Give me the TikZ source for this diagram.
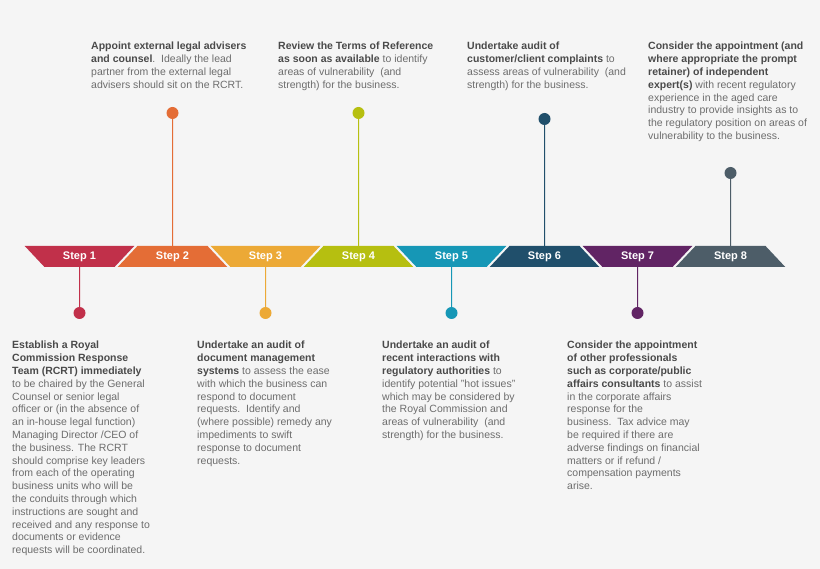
\documentclass[tikz,border=0pt]{standalone}
\usepackage{fontspec}
\setmainfont{Liberation Sans}
\usepackage{xcolor}
\usetikzlibrary{shapes.geometric}

\definecolor{bggray}{HTML}{F5F5F5}
\definecolor{boldgray}{HTML}{4A4A4A}
\definecolor{textgray}{HTML}{6D6D6D}
\definecolor{stepone}{HTML}{C1304A}
\definecolor{steptwo}{HTML}{E46D36}
\definecolor{stepthree}{HTML}{ECA936}
\definecolor{stepfour}{HTML}{B6BF10}
\definecolor{stepfive}{HTML}{1697B6}
\definecolor{stepsix}{HTML}{204F6B}
\definecolor{stepseven}{HTML}{612464}
\definecolor{stepeight}{HTML}{4D5D68}

\newcommand{\hd}[1]{{\bfseries\color{boldgray}#1}}

\tikzset{
  steptrap/.style={trapezium, trapezium stretches=true, minimum width=110pt, minimum height=21pt, inner sep=0pt, text=white, font=\bfseries\fontsize{11}{13}\selectfont},
  wideup/.style={steptrap, trapezium left angle=133, trapezium right angle=133},
  widedown/.style={steptrap, trapezium left angle=47, trapezium right angle=47},
  pindot/.style={circle, inner sep=0pt, minimum size=12pt},
  blurb/.style={anchor=north west, align=left, inner sep=0pt, text=textgray, font=\fontsize{10.5}{12.8}\selectfont}
}

\begin{document}
\begin{tikzpicture}[x=1pt,y=-1pt]

\fill[bggray] (0,0) rectangle (820,569);
\useasboundingbox (0,0) rectangle (820,569);

% the band
\node[wideup, fill=stepone] (s1) at (79.5,256.5) {Step 1};
\node[widedown, fill=steptwo] (s2) at (172.5,256.5) {Step 2};
\node[wideup, fill=stepthree] (s3) at (265.5,256.5) {Step 3};
\node[widedown, fill=stepfour] (s4) at (358.5,256.5) {Step 4};
\node[wideup, fill=stepfive] (s5) at (451.5,256.5) {Step 5};
\node[widedown, fill=stepsix] (s6) at (544.5,256.5) {Step 6};
\node[wideup, fill=stepseven] (s7) at (637.5,256.5) {Step 7};
\node[widedown, fill=stepeight] (s8) at (730.5,256.5) {Step 8};

% pins
\node[pindot, fill=stepone] (p1) at (79.5,313) {};
\node[pindot, fill=steptwo] (p2) at (172.5,113) {};
\node[pindot, fill=stepthree] (p3) at (265.5,313) {};
\node[pindot, fill=stepfour] (p4) at (358.5,113) {};
\node[pindot, fill=stepfive] (p5) at (451.5,313) {};
\node[pindot, fill=stepsix] (p6) at (544.5,119) {};
\node[pindot, fill=stepseven] (p7) at (637.5,313) {};
\node[pindot, fill=stepeight] (p8) at (730.5,173) {};

\draw[stepone, line width=1pt] (s1) -- (p1);
\draw[steptwo, line width=1pt] (s2) -- (p2);
\draw[stepthree, line width=1pt] (s3) -- (p3);
\draw[stepfour, line width=1pt] (s4) -- (p4);
\draw[stepfive, line width=1pt] (s5) -- (p5);
\draw[stepsix, line width=1pt] (s6) -- (p6);
\draw[stepseven, line width=1pt] (s7) -- (p7);
\draw[stepeight, line width=1pt] (s8) -- (p8);

% texts above
\node[blurb] (t2) at (91,42) {\hd{Appoint external legal advisers}\\
  \hd{and counsel}.\ \ Ideally the lead\\
  partner from the external legal\\
  advisers should sit on the RCRT.};
\node[blurb] (t4) at (278,42) {\hd{Review the Terms of Reference}\\
  \hd{as soon as available} to identify\\
  areas of vulnerability \ (and\\
  strength) for the business.};
\node[blurb] (t6) at (467,42) {\hd{Undertake audit of}\\
  \hd{customer/client complaints} to\\
  assess areas of vulnerability \ (and\\
  strength) for the business.};
\node[blurb] (t8) at (648,42) {\hd{Consider the appointment (and}\\
  \hd{where appropriate the prompt}\\
  \hd{retainer) of independent}\\
  \hd{expert(s)} with recent regulatory\\
  experience in the aged care\\
  industry to provide insights as to\\
  the regulatory position on areas of\\
  vulnerability to the business.};

% texts below
\node[blurb] (t1) at (12,341) {\hd{Establish a Royal}\\
  \hd{Commission Response}\\
  \hd{Team (RCRT) immediately}\\
  to be chaired by the General\\
  Counsel or senior legal\\
  officer or (in the absence of\\
  an in-house legal function)\\
  Managing Director /CEO of\\
  the business. The RCRT\\
  should comprise key leaders\\
  from each of the operating\\
  business units who will be\\
  the conduits through which\\
  instructions are sought and\\
  received and any response to\\
  documents or evidence\\
  requests will be coordinated.};
\node[blurb] (t3) at (197,341) {\hd{Undertake an audit of}\\
  \hd{document management}\\
  \hd{systems} to assess the ease\\
  with which the business can\\
  respond to document\\
  requests.\ \ Identify and\\
  (where possible) remedy any\\
  impediments to swift\\
  response to document\\
  requests.};
\node[blurb] (t5) at (382,341) {\hd{Undertake an audit of}\\
  \hd{recent interactions with}\\
  \hd{regulatory authorities} to\\
  identify potential "hot issues"\\
  which may be considered by\\
  the Royal Commission and\\
  areas of vulnerability \ (and\\
  strength) for the business.};
\node[blurb] (t7) at (567,341) {\hd{Consider the appointment}\\
  \hd{of other professionals}\\
  \hd{such as corporate/public}\\
  \hd{affairs consultants} to assist\\
  in the corporate affairs\\
  response for the\\
  business.\ \ Tax advice may\\
  be required if there are\\
  adverse findings on financial\\
  matters or if refund /\\
  compensation payments\\
  arise.};

\end{tikzpicture}
\end{document}
